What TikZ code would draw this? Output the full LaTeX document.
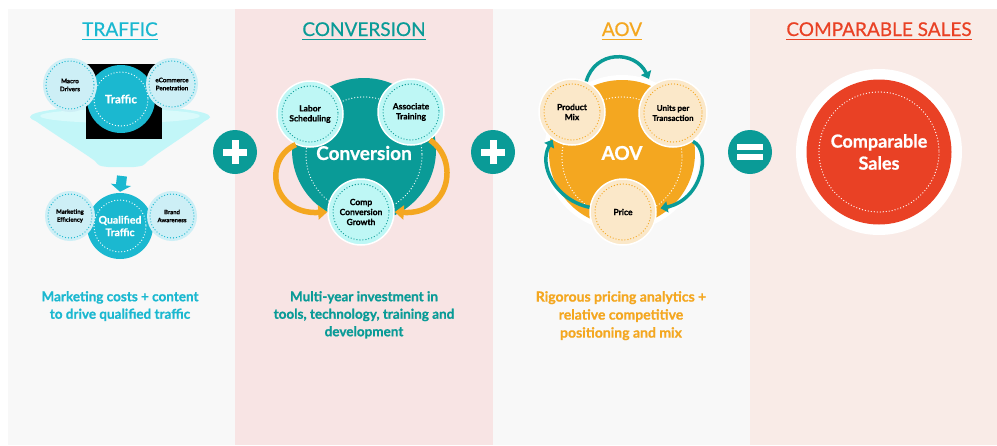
\documentclass[tikz,border=0pt]{standalone}
\usepackage{fontspec}
\setmainfont{Lato}[BoldFeatures={FakeBold=0.8}]
\newfontfamily\headfont{Lato}[FakeBold=0.5]
\usetikzlibrary{arrows.meta}

\definecolor{trafcyan}{HTML}{1BB8D0}
\definecolor{traflight}{HTML}{CDEFF6}
\definecolor{funnelc}{HTML}{C2F6F8}
\definecolor{funneltop}{HTML}{D9FAFB}
\definecolor{convteal}{HTML}{0A9B97}
\definecolor{convlight}{HTML}{BEF7F5}
\definecolor{aovorange}{HTML}{F4A720}
\definecolor{aovlight}{HTML}{FBE8C9}
\definecolor{salesred}{HTML}{E94125}
\definecolor{panelgray}{HTML}{F8F8F8}
\definecolor{panelpink}{HTML}{F8E4E4}
\definecolor{panelrose}{HTML}{F9EBE7}

\tikzset{
  title/.style={anchor=base, inner sep=0pt, text=#1,
    font=\headfont\fontsize{19}{22}\selectfont},
  underline/.style={#1, line width=1pt},
  note/.style={anchor=north, align=center, inner sep=0pt, text=#1,
    font=\bfseries\fontsize{13.5}{17.5}\selectfont},
  hub/.style={circle, inner sep=0pt, minimum size=#1, align=center,
    text=white, font=\bfseries},
  spoke/.style={circle, inner sep=0pt, minimum size=#1, align=center,
    text=black, font=\bfseries\fontsize{8.5}{10}\selectfont},
  dots/.style={#1, line width=1.3pt, dash pattern=on 0pt off 3pt, line cap=round},
  sign/.style={circle, fill=convteal, minimum size=44pt, inner sep=0pt},
  bar/.style={white, line width=7pt},
  swoosh/.style={aovorange, line width=5.5pt,
    -{Triangle[width=14pt,length=9pt]}},
  cycler/.style={convteal, line width=3.5pt,
    -{Triangle[width=11pt,length=7pt]}},
}

\begin{document}
\begin{tikzpicture}[x=1pt,y=-1pt]
  %background and panels
  \useasboundingbox[fill=white] (0,0) rectangle (997,445);
  \fill[panelgray] (8,9) rectangle (235,445);
  \fill[panelpink] (235,9) rectangle (493,445);
  \fill[panelgray] (493,9) rectangle (750,445);
  \fill[panelrose] (750,9) rectangle (997,445);

  %titles
  \node[title=trafcyan] (ttraffic) at (120,36) {TRAFFIC};
  \draw[underline=trafcyan] ([yshift=-3.5pt]ttraffic.base west) -- ([yshift=-3.5pt]ttraffic.base east);
  \node[title=convteal] (tconv) at (364,36) {CONVERSION};
  \draw[underline=convteal] ([yshift=-3.5pt]tconv.base west) -- ([yshift=-3.5pt]tconv.base east);
  \node[title=aovorange] (taov) at (622,36) {AOV};
  \draw[underline=aovorange] ([yshift=-3.5pt]taov.base west) -- ([yshift=-3.5pt]taov.base east);
  \node[title=salesred] (tsales) at (879,36) {COMPARABLE SALES};
  \draw[underline=salesred] ([yshift=-3.5pt]tsales.base west) -- ([yshift=-3.5pt]tsales.base east);

  %traffic funnel
  \fill[funnelc] (30,117) .. controls (55,135) and (80,150) .. (95,161)
    .. controls (99,166) .. (108,167) -- (134,167)
    .. controls (143,166) .. (148,161)
    .. controls (162,150) and (187,135) .. (210,117) -- cycle;
  \fill[funnelc] (120,117) ellipse (90 and 11);
  \fill[funneltop] (120,116) ellipse (80 and 7);
  \fill[black] (86,64) rectangle (162,139);
  \node[hub=68pt, fill=trafcyan, font=\bfseries\fontsize{11.5}{13}\selectfont] (traffic) at (121,99) {Traffic};
  \draw[dots=white] (traffic.center) circle (27);
  \node[spoke=54pt, fill=traflight, font=\bfseries\fontsize{6.2}{8}\selectfont] (macro) at (70,85) {Macro\\Drivers};
  \draw[dots=trafcyan] (macro.center) circle (24);
  \node[spoke=52pt, fill=traflight, font=\bfseries\fontsize{6.2}{8}\selectfont] (ecom) at (172,84) {eCommerce\\Penetration};
  \draw[dots=trafcyan] (ecom.center) circle (23);

  %qualified traffic
  \coordinate (funnelout) at (122,176);
  \node[hub=66pt, fill=trafcyan, font=\bfseries\fontsize{10.5}{12.5}\selectfont] (qual) at (120,226) {Qualified\\Traffic};
  \draw[trafcyan, line width=10pt, -{Triangle[width=20pt,length=7pt]}, shorten >=1pt] (funnelout) -- (qual.north);
  \draw[dots=white] (qual.center) circle (26);
  \node[spoke=50pt, fill=traflight, font=\bfseries\fontsize{6}{8}\selectfont] (mkteff) at (70,216) {Marketing\\Efficiency};
  \draw[dots=trafcyan] (mkteff.center) circle (22);
  \node[spoke=50pt, fill=traflight, font=\bfseries\fontsize{6}{8}\selectfont] (brand) at (172,216) {Brand\\Awareness};
  \draw[dots=trafcyan] (brand.center) circle (22);

  %conversion
  \node[hub=144pt, fill=convteal] (conv) at (364,150) {};
  \node[text=white, font=\bfseries\fontsize{19}{22}\selectfont] (convlabel) at (364,153) {Conversion};
  \draw[dots=white] (364,155) circle (58);
  \node[spoke=66pt, fill=convlight, draw=white, line width=1.5pt] (labor) at (310,114) {Labor\\Scheduling};
  \draw[dots=convteal] (labor.center) circle (28);
  \node[spoke=66pt, fill=convlight, draw=white, line width=1.5pt] (assoc) at (411,112) {Associate\\Training};
  \draw[dots=convteal] (assoc.center) circle (28);
  \node[spoke=66pt, fill=convlight, draw=white, line width=1.5pt] (comp) at (361,212) {Comp\\Conversion\\Growth};
  \draw[dots=convteal] (comp.center) circle (28);
  \draw[swoosh] (labor.245) .. controls (262,160) and (272,215) .. (comp.180);
  \draw[swoosh] (assoc.304) .. controls (460,160) and (450,215) .. (comp.0);

  %aov
  \fill[white] (622,153) circle (78);
  \node[hub=146pt, fill=aovorange, font=\bfseries\fontsize{19}{22}\selectfont] (aov) at (622,153) {AOV};
  \draw[dots=white] (622,157) circle (60);
  \node[spoke=66pt, fill=aovlight, draw=white, line width=1.5pt] (pmix) at (572,112) {Product\\Mix};
  \draw[dots=aovorange] (pmix.center) circle (28);
  \node[spoke=68pt, fill=aovlight, draw=white, line width=1.5pt, font=\bfseries\fontsize{8}{10}\selectfont] (units) at (673,113) {Units per\\Transaction};
  \draw[dots=aovorange] (units.center) circle (29);
  \node[spoke=66pt, fill=aovlight, draw=white, line width=1.5pt] (price) at (623,212) {Price};
  \draw[dots=aovorange] (price.center) circle (28);
  \draw[cycler, shorten >=7pt] (pmix.65) .. controls (595,50) and (635,50) .. (units.127);
  \draw[cycler, shorten >=4pt] (units.305) .. controls (712,150) and (702,200) .. (price.5);
  \draw[cycler] (price.172) .. controls (555,200) and (538,165) .. (pmix.235);

  %comparable sales
  \fill[white] (879,152) circle (83);
  \node[hub=145pt, fill=salesred, font=\bfseries\fontsize{18}{22}\selectfont] (sales) at (879,152) {Comparable\\Sales};
  \draw[dots=white] (sales.center) circle (60);

  %operators
  \node[sign] (plusa) at (235,152) {};
  \draw[bar] ([xshift=-12pt]plusa.center) -- ([xshift=12pt]plusa.center);
  \draw[bar] ([yshift=-12pt]plusa.center) -- ([yshift=12pt]plusa.center);
  \node[sign] (plusb) at (493,152) {};
  \draw[bar] ([xshift=-12pt]plusb.center) -- ([xshift=12pt]plusb.center);
  \draw[bar] ([yshift=-12pt]plusb.center) -- ([yshift=12pt]plusb.center);
  \node[sign] (equal) at (750,152) {};
  \draw[bar, line width=5.5pt] ([xshift=-13pt,yshift=5pt]equal.center) -- ([xshift=13pt,yshift=5pt]equal.center);
  \draw[bar, line width=5.5pt] ([xshift=-13pt,yshift=-5pt]equal.center) -- ([xshift=13pt,yshift=-5pt]equal.center);

  %descriptions
  \node[note=trafcyan] (ntraffic) at (120,291) {Marketing costs + content\\to drive qualified traffic};
  \node[note=convteal] (nconv) at (364,291) {Multi-year investment in\\tools, technology, training and\\development};
  \node[note=aovorange, font=\bfseries\fontsize{14}{18}\selectfont] (naov) at (621,291) {Rigorous pricing analytics +\\relative competitive\\positioning and mix};
\end{tikzpicture}
\end{document}
